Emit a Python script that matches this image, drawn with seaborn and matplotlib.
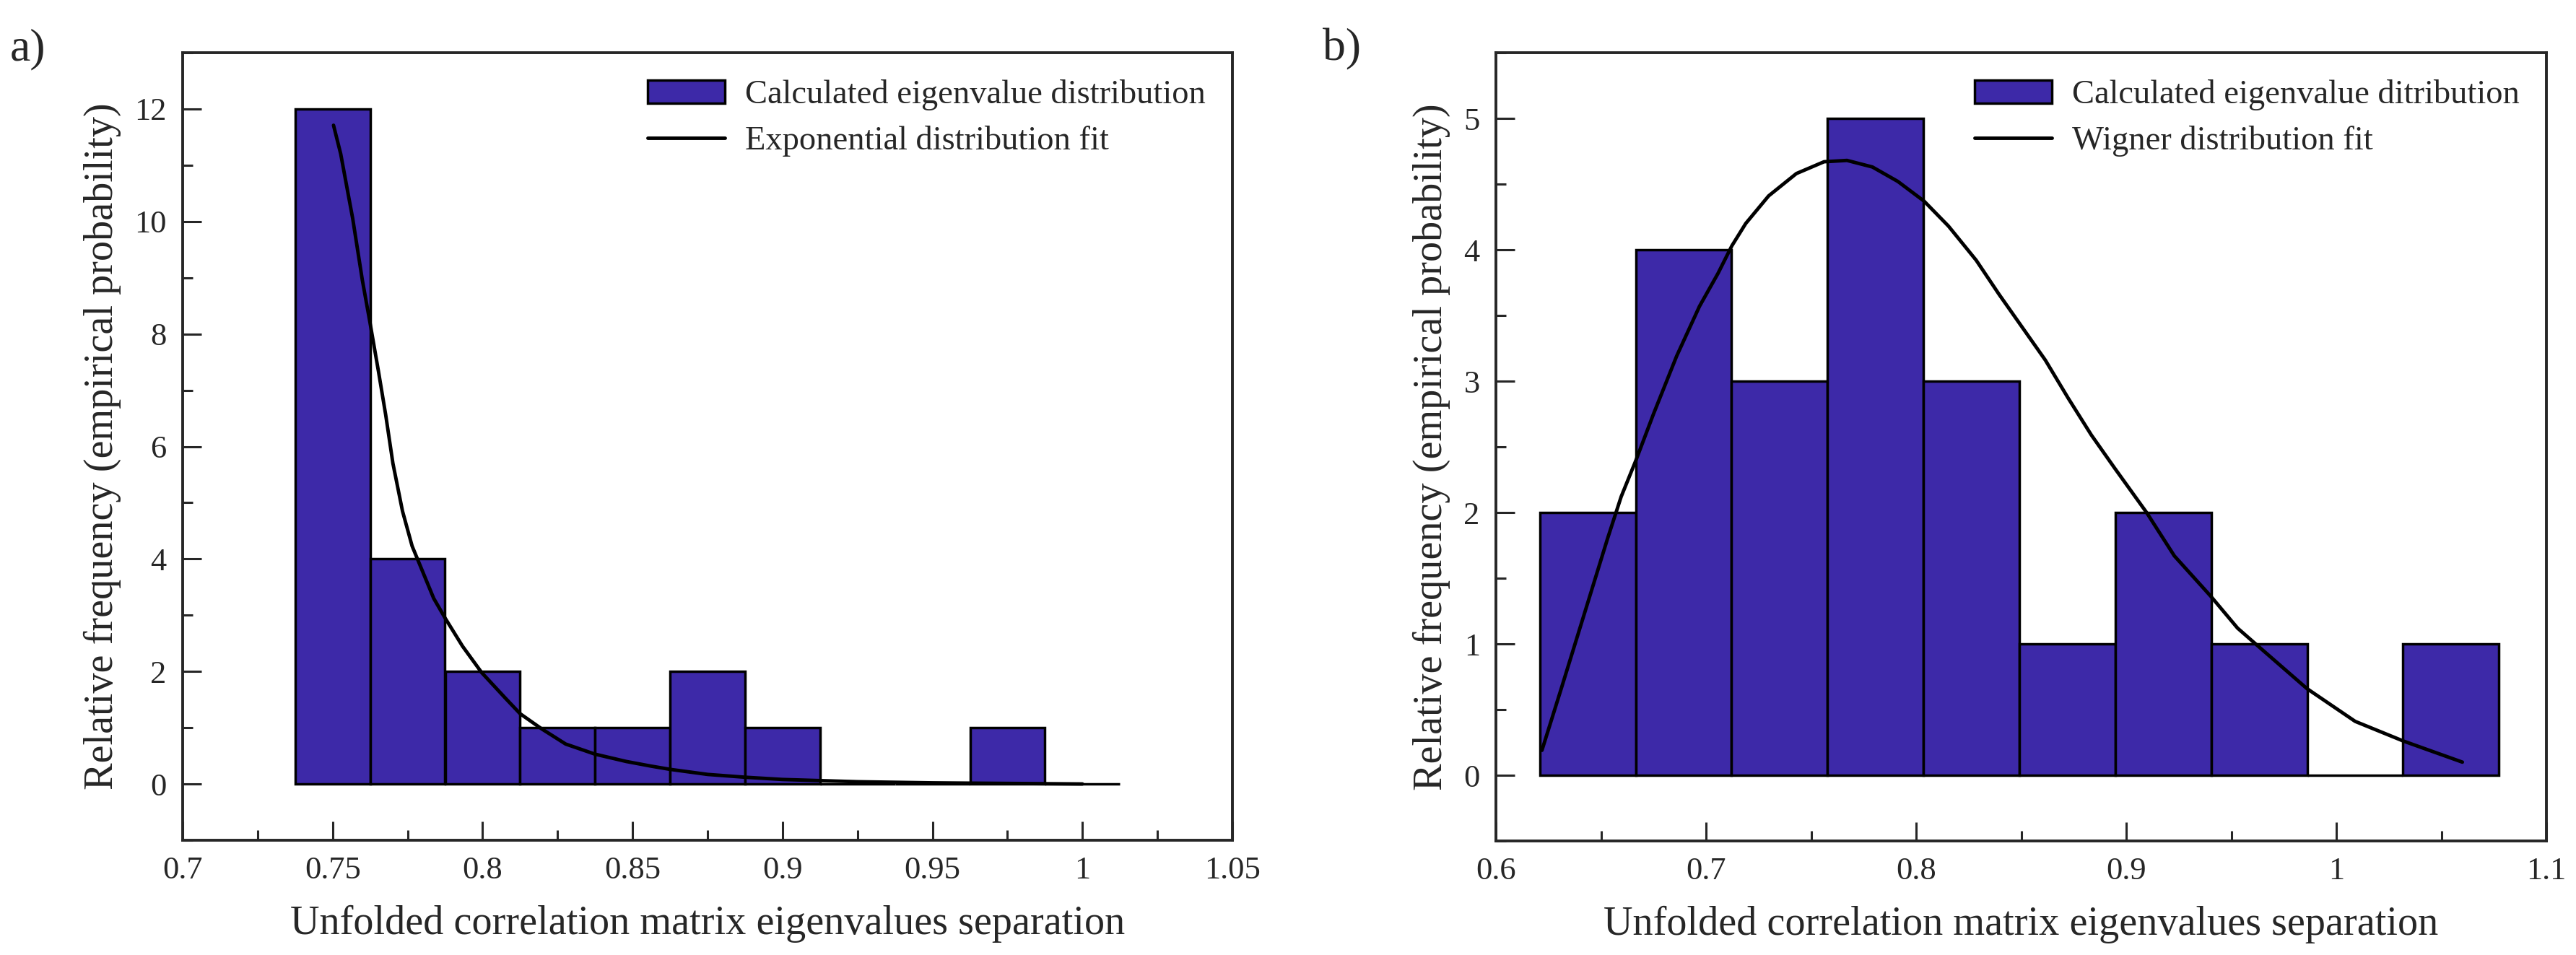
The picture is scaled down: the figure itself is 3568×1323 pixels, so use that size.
import numpy as np
import pandas as pd
import matplotlib
matplotlib.use("Agg")
import matplotlib.pyplot as plt
from matplotlib.ticker import MultipleLocator, FuncFormatter
import seaborn as sns

# panel a) histogram, counts per bin (bin width 0.025)
a_edges = [0.7375, 0.7625, 0.7875, 0.8125, 0.8375, 0.8625, 0.8875,
           0.9125, 0.9375, 0.9625, 0.9875, 1.0125]
a_counts = [12, 4, 2, 1, 1, 2, 1, 0, 0, 1, 0]
# exponential fit
a_fit_x = [0.7503, 0.7527, 0.7567, 0.7599, 0.7625, 0.7653, 0.7677, 0.7701,
           0.7733, 0.7765, 0.7789, 0.7837, 0.7875, 0.7933, 0.7997, 0.8077,
           0.8125, 0.8197, 0.8277, 0.8375, 0.8479, 0.8559, 0.8625, 0.875,
           0.8875, 0.9, 0.925, 0.95, 0.975, 1.0]
a_fit_y = [11.71, 11.2, 10.05, 8.96, 8.19, 7.33, 6.56, 5.7,
           4.85, 4.23, 3.92, 3.30, 2.95, 2.45, 1.98, 1.52,
           1.25, 0.98, 0.71, 0.53, 0.40, 0.32, 0.26, 0.17,
           0.12, 0.08, 0.04, 0.02, 0.01, 0.0]

# panel b) histogram
b_edges = [0.6208, 0.6665, 0.7121, 0.7578, 0.8035, 0.8491, 0.8948,
           0.9404, 0.9861, 1.0317, 1.0774]
b_counts = [2, 4, 3, 5, 3, 1, 2, 1, 0, 1]
# wigner fit
b_fit_x = [0.6219, 0.6311, 0.6421, 0.6531, 0.6596, 0.6667, 0.675, 0.686,
           0.6969, 0.7057, 0.7123, 0.7189, 0.7298, 0.743, 0.7562, 0.7671,
           0.7792, 0.7913, 0.8038, 0.8154, 0.8286, 0.8395, 0.8505, 0.8615,
           0.8724, 0.8834, 0.8944, 0.9097, 0.9229, 0.9404, 0.953, 0.963,
           0.986, 1.009, 1.032, 1.06]
b_fit_y = [0.19, 0.66, 1.23, 1.80, 2.12, 2.40, 2.75, 3.19,
           3.57, 3.82, 4.03, 4.20, 4.41, 4.58, 4.67, 4.68,
           4.63, 4.52, 4.37, 4.18, 3.92, 3.66, 3.41, 3.16,
           2.87, 2.59, 2.34, 2.0, 1.67, 1.36, 1.12, 0.98,
           0.66, 0.41, 0.26, 0.1]

bar_color = "#3D29A8"
xlabel = "Unfolded correlation matrix eigenvalues separation"
ylabel = "Relative frequency (empirical probability)"

sns.set_style("ticks")
plt.rcParams["font.family"] = ["Liberation Serif", "DejaVu Serif"]
plt.rcParams["axes.linewidth"] = 2.8

W, H = 3568, 1323
fig = plt.figure(figsize=(W / 100, H / 100), dpi=100)


def fmt(v, pos):
    return f"{v:.2f}".rstrip("0").rstrip(".")


def panel(rect, edges, counts, fx, fy, hist_label, fit_label, xlim, ylim,
          xmaj, xmin, ymaj, ymin):
    ax = fig.add_axes(rect)
    centers = [(edges[i] + edges[i + 1]) / 2 for i in range(len(counts))]
    df = pd.DataFrame({"x": centers, "w": counts})
    sns.histplot(data=df, x="x", weights="w", bins=edges, stat="count",
                 color=bar_color, alpha=1, edgecolor="black", linewidth=2.5,
                 ax=ax)
    sns.lineplot(x=fx, y=fy, color="black", linewidth=3.5, ax=ax,
                 sort=False, estimator=None)
    ax.set_xlim(*xlim)
    ax.set_ylim(*ylim)
    ax.xaxis.set_major_locator(MultipleLocator(xmaj))
    ax.xaxis.set_minor_locator(MultipleLocator(xmin))
    ax.yaxis.set_major_locator(MultipleLocator(ymaj))
    ax.yaxis.set_minor_locator(MultipleLocator(ymin))
    ax.xaxis.set_major_formatter(FuncFormatter(fmt))
    ax.tick_params(which="both", direction="in", width=2.2,
                   top=False, right=False, labelsize=32, pad=16)
    ax.tick_params(which="major", length=19)
    ax.tick_params(which="minor", length=10)
    ax.set_xlabel(xlabel, fontsize=40.5, labelpad=20)
    ax.set_ylabel(ylabel, fontsize=40.5, labelpad=13)
    for s in ax.spines.values():
        s.set_visible(True)
        s.set_linewidth(2.8)
    bars = ax.containers[0]
    line = ax.lines[0]
    leg = ax.legend([bars.patches[0], line], [hist_label, fit_label],
                    loc="upper right", frameon=False, fontsize=33.5,
                    handlelength=2.3, handleheight=0.7, handletextpad=0.6,
                    labelspacing=0.45, borderaxespad=0.4)
    leg.legend_handles[0].set_linewidth(2.5)
    return ax


panel([253 / W, 1 - 1164 / H, 1454 / W, 1091 / H], a_edges, a_counts,
      a_fit_x, a_fit_y, "Calculated eigenvalue distribution",
      "Exponential distribution fit", (0.7, 1.05), (-1, 13),
      0.05, 0.025, 2, 1)
panel([2072 / W, 1 - 1165 / H, 1455 / W, 1092 / H], b_edges, b_counts,
      b_fit_x, b_fit_y, "Calculated eigenvalue ditribution",
      "Wigner distribution fit", (0.6, 1.1), (-0.5, 5.5),
      0.1, 0.05, 1, 0.5)

fig.text(14 / W, 1 - 68 / H, "a)", fontsize=46, ha="left", va="center")
fig.text(1832 / W, 1 - 68 / H, "b)", fontsize=46, ha="left", va="center")

fig.savefig("out.png", dpi=100)
